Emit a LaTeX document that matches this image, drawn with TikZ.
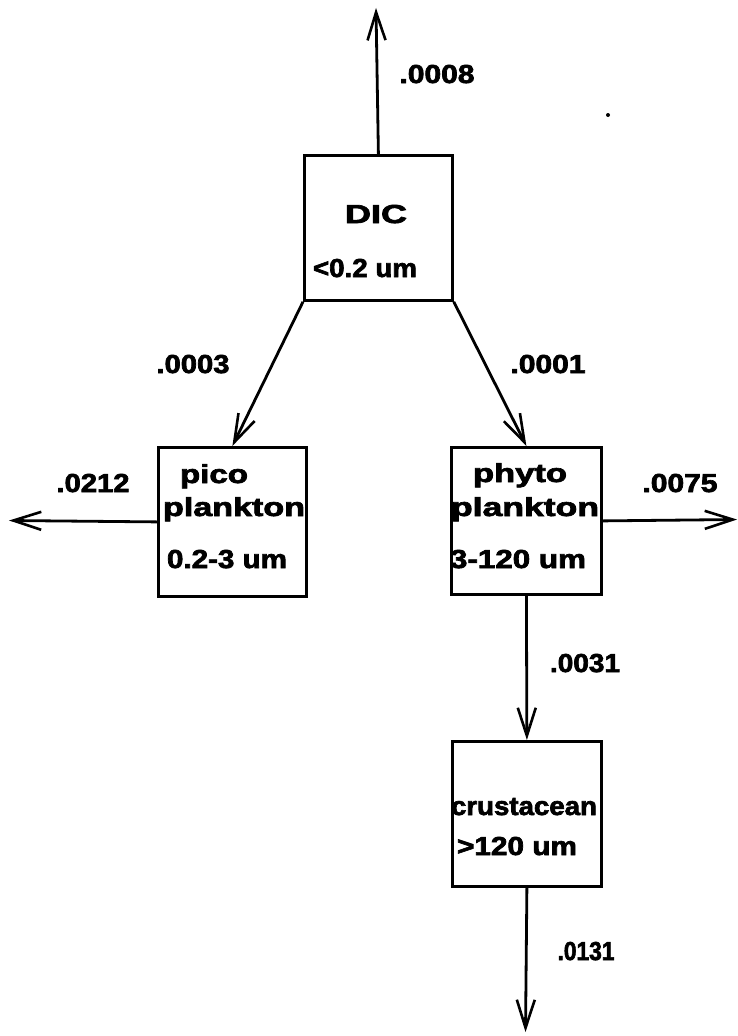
\documentclass[tikz,border=0pt]{standalone}
\usepackage{fontspec}
\usepackage{graphicx}
\newfontfamily\labfont{Liberation Sans}[FakeBold=2.5]
\usetikzlibrary{arrows.meta}
\newcommand\wt[2]{\resizebox{#1pt}{\height}{#2}}
\tikzset{
  box/.style={draw, line width=2.8pt, inner sep=0pt, anchor=north west},
  flow/.style={line width=2.8pt, -{Straight Barb[length=28pt,width=18pt,line width=2.6pt]}},
  txt/.style={inner sep=0pt, anchor=base, font=\labfont\bfseries\fontsize{26}{28}\selectfont}
}
\begin{document}
\begin{tikzpicture}[x=1pt,y=-1pt]
\useasboundingbox (0,0) rectangle (738,1036);
% boxes
\node[box, minimum width=148pt, minimum height=145pt] (dic) at (303,154) {};
\node[box, minimum width=148pt, minimum height=149pt] (pico) at (157,446) {};
\node[box, minimum width=150pt, minimum height=147pt] (phyto) at (450,446) {};
\node[box, minimum width=149pt, minimum height=145pt] (crust) at (451,740) {};
% box texts
\node[txt] (t1) at (376,223) {\wt{62}{DIC}};
\node[txt] (t2) at (365,277) {\wt{104}{<0.2 um}};
\node[txt] (t3) at (214,483) {\wt{68}{pico}};
\node[txt] (t4) at (234,516) {\wt{142}{plankton}};
\node[txt] (t5) at (227,568) {\wt{120}{0.2-3 um}};
\node[txt] (t6) at (520,482) {\wt{94}{phyto}};
\node[txt] (t7) at (525,516) {\wt{148}{plankton}};
\node[txt] (t8) at (518,568) {\wt{136}{3-120 um}};
\node[txt] (t9) at (524,815) {\wt{146}{crustacean}};
\node[txt] (t10) at (517,855) {\wt{120}{>120 um}};
% free ends
\coordinate (top) at (376,8);
\coordinate (left) at (9,520.5);
\coordinate (right) at (737,519.5);
\coordinate (bottom) at (525.5,1032);
% connectors
\draw[flow] (dic.north) -- (top);
\draw[flow] (dic.south west) -- (pico.north);
\draw[flow] (dic.south east) -- (phyto.north);
\draw[flow] (pico.west) -- (left);
\draw[flow] (phyto.east) -- (right);
\draw[flow] (phyto.south) -- (crust.north);
\draw[flow] (crust.south) -- (bottom);
% flow labels
\node[txt] (l1) at (437,83) {\wt{75}{.0008}};
\node[txt] (l2) at (193,373) {\wt{73}{.0003}};
\node[txt] (l3) at (548,373) {\wt{75}{.0001}};
\node[txt] (l4) at (93,492) {\wt{73}{.0212}};
\node[txt] (l5) at (680,492) {\wt{75}{.0075}};
\node[txt] (l6) at (585,672) {\wt{70}{.0031}};
\node[txt] (l7) at (586,960) {\wt{57}{.0131}};
% speck
\fill (608,115) circle (2pt);
\end{tikzpicture}
\end{document}
